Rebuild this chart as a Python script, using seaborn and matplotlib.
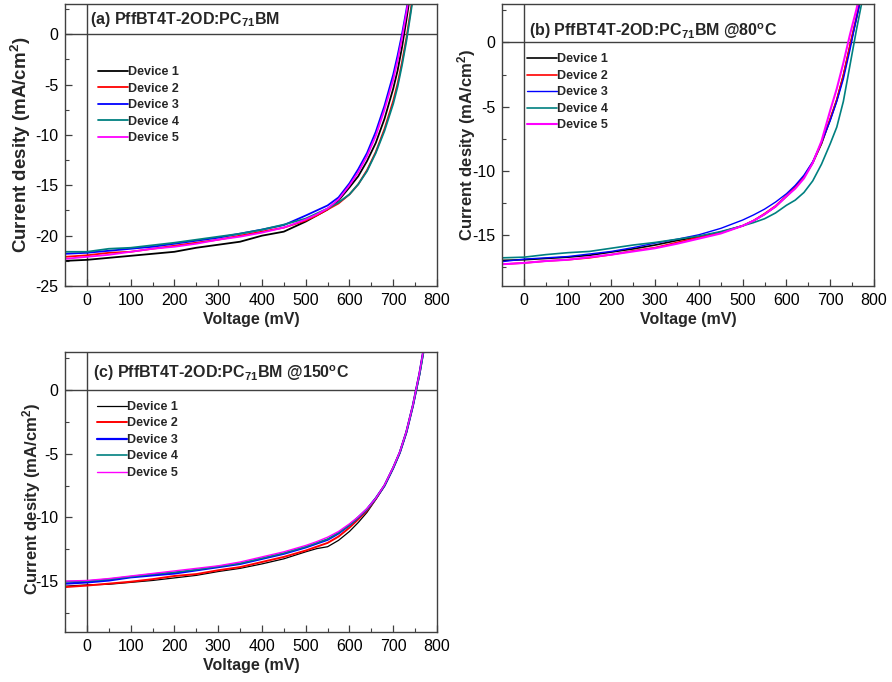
import numpy as np
import pandas as pd
import matplotlib
matplotlib.use("Agg")
import matplotlib.pyplot as plt
from matplotlib.ticker import MultipleLocator
import seaborn as sns

# J-V data (voltage in mV, current density in mA/cm2)
devices = ["Device 1", "Device 2", "Device 3", "Device 4", "Device 5"]
colors = ["#000000", "#ff0000", "#0000ff", "#008080", "#ff00ff"]

volt_a = [-50, 0, 50, 100, 150, 200, 250, 300, 350, 400, 450,
          500, 525, 550, 575, 600, 620, 640, 660, 680, 700, 710, 720, 730, 740, 750, 760]
a_dev1 = [-22.5, -22.4, -22.2, -22.0, -21.8, -21.6, -21.2, -20.9, -20.6, -20.0, -19.6,
          -18.6, -18.0, -17.4, -16.5, -15.2, -14.1, -12.6, -10.8, -8.4, -5.4, -3.6, -1.3, 1.4, 4.3, 7.4, 10.6]
a_dev2 = [-22.1, -21.95, -21.7, -21.6, -21.3, -21.0, -20.7, -20.4, -20.0, -19.6, -19.2,
          -18.5, -18.0, -17.4, -16.8, -15.9, -14.9, -13.5, -11.7, -9.4, -6.6, -4.9, -2.8, -0.4, 2.4, 5.4, 8.6]
a_dev3 = [-21.8, -21.7, -21.5, -21.3, -21.1, -20.8, -20.5, -20.2, -19.8, -19.4, -18.95,
          -18.0, -17.5, -17.0, -16.2, -14.8, -13.4, -11.8, -9.7, -7.1, -4.0, -2.1, 0.0, 2.4, 5.0, 7.8, 10.8]
a_dev4 = [-21.6, -21.6, -21.3, -21.2, -20.95, -20.7, -20.4, -20.1, -19.8, -19.4, -18.9,
          -18.3, -17.8, -17.3, -16.7, -15.9, -14.9, -13.6, -11.8, -9.6, -6.9, -5.2, -3.1, -0.7, 2.1, 5.1, 8.4]
a_dev5 = [-22.3, -22.1, -21.9, -21.6, -21.3, -21.1, -20.8, -20.4, -20.1, -19.7, -19.2,
          -18.4, -17.9, -17.3, -16.4, -15.0, -13.7, -12.1, -10.1, -7.5, -4.5, -2.6, -0.4, 2.1, 4.8, 7.7, 10.7]

volt_bc = [-50, 0, 50, 100, 150, 200, 250, 300, 350, 400, 450,
           500, 525, 550, 575, 600, 620, 640, 660, 680, 700, 715, 730, 745, 760, 775]
b_dev1 = [-17.0, -16.95, -16.85, -16.75, -16.6, -16.35, -16.1, -15.8, -15.45, -15.15, -14.8,
          -14.3, -13.9, -13.4, -12.8, -12.0, -11.3, -10.5, -9.4, -7.9, -6.0, -4.5, -2.6, -0.3, 1.9, 4.3]
b_dev2 = [-17.3, -17.2, -17.05, -16.95, -16.8, -16.55, -16.25, -16.0, -15.6, -15.2, -14.85,
          -14.3, -13.9, -13.35, -12.75, -11.95, -11.25, -10.45, -9.35, -7.85, -5.95, -4.45, -2.55, -0.25, 2.0, 4.4]
b_dev3 = [-17.1, -16.9, -16.8, -16.7, -16.5, -16.3, -16.0, -15.65, -15.35, -15.0, -14.5,
          -13.85, -13.45, -13.0, -12.45, -11.8, -11.15, -10.35, -9.3, -7.8, -6.1, -4.6, -2.85, -0.6, 1.9, 4.2]
b_dev4 = [-16.8, -16.75, -16.55, -16.4, -16.3, -16.05, -15.8, -15.6, -15.35, -15.1, -14.75,
          -14.3, -14.05, -13.75, -13.3, -12.7, -12.3, -11.7, -10.8, -9.5, -7.9, -6.6, -4.6, -1.8, 1.0, 3.6]
b_dev5 = [-17.3, -17.2, -17.05, -16.95, -16.75, -16.55, -16.3, -16.05, -15.7, -15.3, -14.9,
          -14.3, -13.9, -13.4, -12.8, -12.0, -11.4, -10.6, -9.4, -7.7, -5.3, -3.6, -1.6, 0.6, 2.6, 5.0]

c_dev1 = [-15.4, -15.3, -15.25, -15.1, -14.95, -14.75, -14.55, -14.25, -14.0, -13.65, -13.25,
          -12.7, -12.45, -12.3, -11.8, -11.1, -10.4, -9.6, -8.6, -7.5, -6.1, -4.9, -3.3, -1.2, 1.3, 4.3]
c_dev2 = [-15.47, -15.35, -15.2, -15.05, -14.85, -14.6, -14.45, -14.15, -13.9, -13.5, -13.1,
          -12.6, -12.3, -12.0, -11.5, -10.8, -10.15, -9.45, -8.55, -7.5, -6.1, -4.9, -3.3, -1.2, 1.3, 4.3]
c_dev3 = [-15.2, -15.1, -14.95, -14.7, -14.55, -14.4, -14.15, -13.9, -13.65, -13.25, -12.85,
          -12.35, -12.05, -11.75, -11.25, -10.6, -10.0, -9.35, -8.5, -7.5, -6.1, -4.9, -3.3, -1.2, 1.3, 4.3]
c_dev4 = [-15.05, -15.0, -14.85, -14.65, -14.45, -14.3, -14.1, -13.85, -13.6, -13.2, -12.8,
          -12.3, -12.0, -11.7, -11.2, -10.6, -10.0, -9.35, -8.5, -7.5, -6.1, -4.9, -3.3, -1.2, 1.2, 4.1]
c_dev5 = [-15.0, -14.95, -14.8, -14.6, -14.4, -14.2, -14.0, -13.8, -13.5, -13.1, -12.7,
          -12.2, -11.9, -11.55, -11.1, -10.5, -9.95, -9.3, -8.5, -7.45, -6.05, -4.85, -3.25, -1.15, 1.35, 4.35]

sns.set_style("ticks")
plt.rcParams["font.family"] = ["Liberation Sans", "DejaVu Sans"]
plt.rcParams["axes.unicode_minus"] = False
plt.rcParams["mathtext.fontset"] = "custom"
plt.rcParams["mathtext.rm"] = "Liberation Sans:bold"
plt.rcParams["mathtext.it"] = "Liberation Sans:bold"
plt.rcParams["mathtext.bf"] = "Liberation Sans:bold"


def make_df(volt, curves):
    frames = []
    for name, vals in zip(devices, curves):
        frames.append(pd.DataFrame({"V": volt, "J": vals, "Device": name}))
    return pd.concat(frames, ignore_index=True)


def draw_panel(ax, df, title, title_xy, ylim, legend_xy, widths, ylab_xy, ylab_size):
    for name, col, lw in zip(devices, colors, widths):
        sub = df[df["Device"] == name]
        sns.lineplot(data=sub, x="V", y="J", color=col, lw=lw, label=name,
                     estimator=None, sort=False, ax=ax)
    ax.axhline(0, color="#404040", lw=1.0, zorder=0)
    ax.axvline(0, color="#404040", lw=1.0, zorder=0)
    ax.set_xlim(-50, 800)
    ax.set_ylim(*ylim)
    ax.xaxis.set_major_locator(MultipleLocator(100))
    ax.xaxis.set_minor_locator(MultipleLocator(50))
    ax.yaxis.set_major_locator(MultipleLocator(5))
    ax.yaxis.set_minor_locator(MultipleLocator(2.5))
    ax.tick_params(which="both", direction="in", labelsize=11.5, colors="#000000")
    ax.tick_params(which="major", length=5, width=0.9, color="#404040", pad=5)
    ax.tick_params(which="minor", length=3, width=0.8, color="#404040")
    for s in ax.spines.values():
        s.set_visible(True)
        s.set_color("#404040")
        s.set_linewidth(1.0)
    ax.set_xlabel("Voltage (mV)", fontsize=11.5, fontweight="bold", labelpad=3)
    ax.set_ylabel("Current desity (mA/cm$^{2}$)", fontsize=ylab_size, fontweight="bold")
    ax.yaxis.set_label_coords(*ylab_xy)
    ax.text(title_xy[0], title_xy[1], title, transform=ax.transAxes,
            fontsize=11.5, fontweight="bold", va="center", ha="left")
    ax.legend(loc="upper left", bbox_to_anchor=legend_xy, frameon=False,
              prop={"weight": "bold", "size": 9}, handlelength=2.4,
              handletextpad=0.0, labelspacing=0.36, borderaxespad=0,
              borderpad=0)


fig = plt.figure(figsize=(8.92, 6.82), dpi=100)
ax_a = fig.add_axes([0.0729, 0.5806, 0.417, 0.4135])
ax_b = fig.add_axes([0.5628, 0.5806, 0.417, 0.4135])
ax_c = fig.add_axes([0.0729, 0.0733, 0.417, 0.4106])

draw_panel(ax_a, make_df(volt_a, [a_dev1, a_dev2, a_dev3, a_dev4, a_dev5]),
           "(a) PffBT4T-2OD:PC$_{71}$BM", (0.067, 0.946), (-25, 3),
           (0.088, 0.779), [1.3, 1.3, 1.3, 1.3, 1.3], (-0.087, 0.5), 13.5)
draw_panel(ax_b, make_df(volt_bc, [b_dev1, b_dev2, b_dev3, b_dev4, b_dev5]),
           "(b) PffBT4T-2OD:PC$_{71}$BM @80$^{\\rm o}$C", (0.073, 0.904), (-19, 3),
           (0.068, 0.825), [1.2, 1.2, 1.0, 1.2, 1.5], (-0.065, 0.5), 12)
draw_panel(ax_c, make_df(volt_bc, [c_dev1, c_dev2, c_dev3, c_dev4, c_dev5]),
           "(c) PffBT4T-2OD:PC$_{71}$BM @150$^{\\rm o}$C", (0.076, 0.923), (-19, 3),
           (0.085, 0.825), [0.9, 1.4, 1.6, 1.2, 1.0], (-0.06, 0.474), 12)

fig.savefig("out.png", dpi=100)
